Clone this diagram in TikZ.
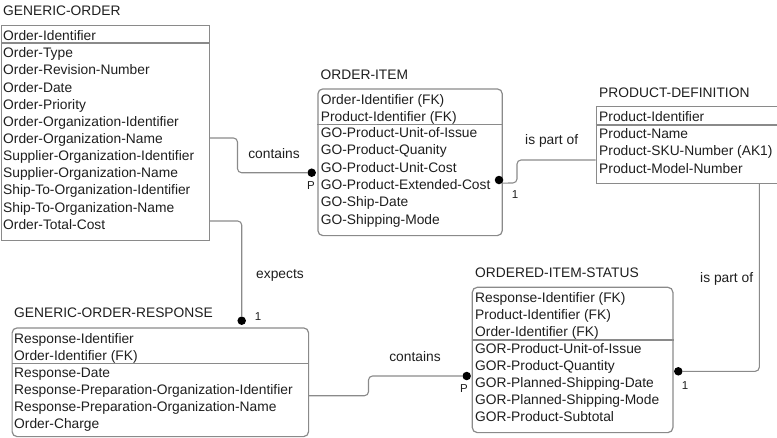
\documentclass[tikz,border=0pt]{standalone}
\usepackage{fontspec}
\setmainfont{Liberation Sans}
\definecolor{ink}{HTML}{1E1E1E}
\definecolor{boxc}{HTML}{8A8A8A}
\definecolor{linec}{HTML}{8A8A8A}
\begin{document}
\begin{tikzpicture}[x=1pt,y=-1pt,
  txt/.style={anchor=base west, inner sep=0, font=\fontsize{13.8}{16}\selectfont, text=ink},
  ent/.style={draw=boxc, line width=1.2pt, inner sep=0, anchor=north west},
  rent/.style={ent, rounded corners=5pt},
  divl/.style={draw=boxc, line width=1.2pt},
  conn/.style={draw=linec, line width=1.1pt, rounded corners=4pt},
  dotn/.style={circle, fill=black, inner sep=0, minimum size=8.5pt},
  lbl/.style={font=\fontsize{13.8}{16}\selectfont, text=ink, inner sep=0},
  card/.style={font=\fontsize{11.5}{13}\selectfont, text=ink, inner sep=0}]
\path[use as bounding box] (0,0) rectangle (777,437);
\clip (0,0) rectangle (777,437);

% ---------- GENERIC-ORDER ----------
\node[txt] (go-t) at (3,15.7) {GENERIC-ORDER};
\node[ent, minimum width=208, minimum height=215] (go) at (1,25) {};
\draw[divl] (go.west |- 0,43) -- (go.east |- 0,43);
\node[txt] (go-k) at (3,40) {Order-Identifier};
\foreach \t [count=\i from 0] in {Order-Type,Order-Revision-Number,Order-Date,Order-Priority,Order-Organization-Identifier,Order-Organization-Name,Supplier-Organization-Identifier,Supplier-Organization-Name,Ship-To-Organization-Identifier,Ship-To-Organization-Name,Order-Total-Cost}
  \node[txt] (go-r\i) at (3,{57.7+\i*17.15}) {\t};

% ---------- ORDER-ITEM ----------
\node[txt] (oi-t) at (320.5,79) {ORDER-ITEM};
\node[rent, minimum width=184.4, minimum height=146.7] (oi) at (317.3,88.3) {};
\draw[divl] (oi.west |- 0,124.3) -- (oi.east |- 0,124.3);
\node[txt] (oi-k0) at (320.7,104.3) {Order-Identifier (FK)};
\node[txt] (oi-k1) at (320.7,121.7) {Product-Identifier (FK)};
\foreach \t [count=\i from 0] in {GO-Product-Unit-of-Issue,GO-Product-Quanity,GO-Product-Unit-Cost,GO-Product-Extended-Cost,GO-Ship-Date,GO-Shipping-Mode}
  \node[txt] (oi-r\i) at (320.7,{137.7+\i*17.26}) {\t};

% ---------- PRODUCT-DEFINITION ----------
\node[txt] (pd-t) at (599,97.7) {PRODUCT-DEFINITION};
\node[ent, minimum width=200, minimum height=77] (pd) at (595.7,106) {};
\draw[divl] (pd.west |- 0,125) -- (pd.east |- 0,125);
\node[txt] (pd-k) at (599,121) {Product-Identifier};
\foreach \t [count=\i from 0] in {Product-Name,Product-SKU-Number (AK1),Product-Model-Number}
  \node[txt] (pd-r\i) at (599,{138.3+\i*17.35}) {\t};

% ---------- GENERIC-ORDER-RESPONSE ----------
\node[txt] (gor-t) at (14,317.7) {GENERIC-ORDER-RESPONSE};
\node[rent, minimum width=296.5, minimum height=108.7] (gor) at (11.5,327.3) {};
\draw[divl] (gor.west |- 0,363.3) -- (gor.east |- 0,363.3);
\node[txt] (gor-k0) at (14,343.3) {Response-Identifier};
\node[txt] (gor-k1) at (14,360) {Order-Identifier (FK)};
\foreach \t [count=\i from 0] in {Response-Date,Response-Preparation-Organization-Identifier,Response-Preparation-Organization-Name,Order-Charge}
  \node[txt] (gor-r\i) at (14,{377.3+\i*16.9}) {\t};

% ---------- ORDERED-ITEM-STATUS ----------
\node[txt] (ois-t) at (475,277.7) {ORDERED-ITEM-STATUS};
\node[rent, minimum width=200.6, minimum height=145.3] (ois) at (471.7,286.7) {};
\draw[divl] (ois.west |- 0,340) -- (ois.east |- 0,340);
\foreach \t [count=\i from 0] in {Response-Identifier (FK),Product-Identifier (FK),Order-Identifier (FK)}
  \node[txt] (ois-k\i) at (475,{302.3+\i*16.85}) {\t};
\foreach \t [count=\i from 0] in {GOR-Product-Unit-of-Issue,GOR-Product-Quantity,GOR-Planned-Shipping-Date,GOR-Planned-Shipping-Mode,GOR-Product-Subtotal}
  \node[txt] (ois-r\i) at (475,{353.3+\i*17.1}) {\t};

% ---------- dots ----------
\node[dotn] (d1) at (311.7,172.7) {};
\node[dotn] (d2) at (241.7,320.7) {};
\node[dotn] (d3) at (499,180) {};
\node[dotn] (d4) at (678.3,371.3) {};
\node[dotn] (d5) at (466.7,376) {};

% ---------- connectors ----------
\draw[conn] (go.east |- 0,138) -| (237.5,172.7) -- (d1);
\draw[conn] (go.east |- 0,221) -| (d2);
\draw[conn] (d3.south east) -- (517,182.9) |- (pd.west |- 0,160);
\draw[conn] (pd.south -| 759.3,0) |- (d4);
\draw[conn] (gor.east |- 0,395.7) -| (368.5,376) -- (d5);

% ---------- labels ----------
\node[lbl] (l1) at (274,153.7) {contains};
\node[lbl] (l2) at (280,275) {expects};
\node[lbl] (l3) at (551.7,140.7) {is part of};
\node[lbl] (l4) at (726.7,279.3) {is part of};
\node[lbl] (l5) at (415,356.7) {contains};
\node[card] (c1) at (311,185.7) {P};
\node[card] (c2) at (258,316.7) {1};
\node[card] (c3) at (515,195) {1};
\node[card] (c4) at (685,386) {1};
\node[card] (c5) at (464,388.3) {P};
\end{tikzpicture}
\end{document}
